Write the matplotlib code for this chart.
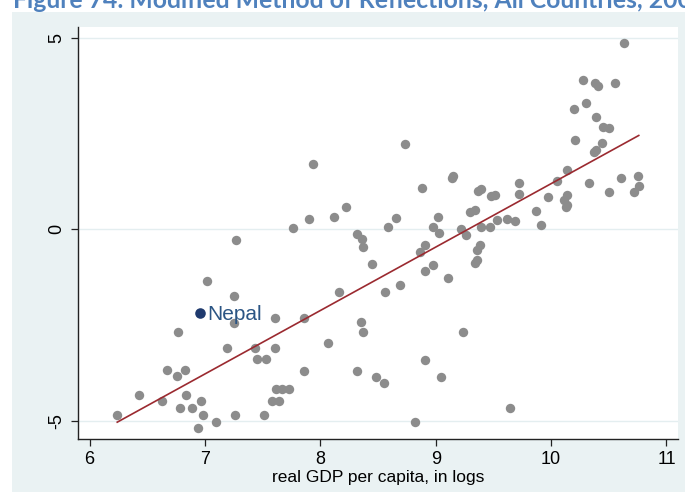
import numpy as np
import matplotlib
matplotlib.use('Agg')
import matplotlib.pyplot as plt
from matplotlib.patches import Rectangle

# log real GDP per capita vs. residual index
gdp = [6.24, 6.43, 6.63, 6.67, 6.76, 6.83, 6.77, 6.78, 6.84, 6.89, 6.97, 6.98, 6.94, 7.10,
       7.02, 7.19, 7.25, 7.25, 7.27, 7.26, 7.43, 7.45, 7.53, 7.51, 7.61, 7.61, 7.62, 7.67,
       7.73, 7.58, 7.64, 7.86, 7.86, 7.76, 7.90, 8.12, 8.22, 8.16, 8.07, 8.32, 8.36, 8.37,
       8.45, 8.35, 8.37, 8.32, 8.48, 8.55, 8.59, 8.66, 8.56, 8.69, 8.82, 8.91, 9.05, 8.86,
       8.91, 8.91, 8.98, 9.11, 8.98, 9.03, 9.02, 9.24, 9.22, 9.26, 9.30, 9.34, 9.39, 9.47,
       9.53, 9.62, 9.69, 9.87, 9.91, 9.38, 9.36, 9.36, 9.34, 9.64,
       10.63, 10.28, 10.38, 10.41, 10.55, 10.30, 10.20, 10.39, 10.45, 10.50, 10.21, 10.44,
       10.37, 10.39, 10.14, 10.05, 10.33, 10.61, 10.75, 10.76, 10.72, 10.50, 10.14, 10.11,
       10.14, 10.13, 9.97, 9.72, 9.72, 9.37, 9.39, 9.48, 9.51, 8.73, 7.94, 8.88, 9.15, 9.14]
index = [-4.85, -4.32, -4.49, -3.68, -3.84, -3.68, -2.68, -4.66, -4.32, -4.66, -4.49, -4.85, -5.20, -5.03,
         -1.35, -3.11, -2.44, -1.75, -0.27, -4.85, -3.11, -3.39, -3.39, -4.85, -2.31, -3.10, -4.17, -4.17,
         -4.17, -4.49, -4.49, -2.32, -3.70, 0.04, 0.27, 0.32, 0.57, -1.63, -2.97, -0.13, -0.26, -0.45,
         -0.91, -2.43, -2.68, -3.70, -3.85, -4.01, 0.07, 0.30, -1.64, -1.45, -5.03, -3.40, -3.85, -0.58,
         -0.41, -1.09, -0.93, -1.26, 0.07, -0.09, 0.33, -2.68, 0.00, -0.16, 0.46, 0.51, 0.07, 0.07,
         0.25, 0.28, 0.22, 0.49, 0.10, -0.42, -0.53, -0.80, -0.87, -4.67,
         4.87, 3.91, 3.83, 3.73, 3.82, 3.30, 3.15, 2.93, 2.66, 2.65, 2.34, 2.25,
         2.02, 2.08, 1.56, 1.26, 1.21, 1.34, 1.39, 1.13, 0.98, 0.98, 0.90, 0.77,
         0.64, 0.57, 0.85, 1.21, 0.92, 1.01, 1.05, 0.87, 0.90, 2.23, 1.70, 1.08, 1.39, 1.35]

nepal_x, nepal_y = 6.955, -2.19

x_ticks = [6, 7, 8, 9, 10, 11]
y_ticks = [-5, 0, 5]

bg = '#EAF2F3'
W, H = 685, 492

fig = plt.figure(figsize=(W / 100, H / 100), dpi=100)
fig.patch.set_facecolor('white')
# stata graph region, starts a little in from the top-left corner
fig.patches.append(Rectangle((12 / W, 0), 1 - 12 / W, 1 - 12 / H, transform=fig.transFigure,
                             facecolor=bg, edgecolor='none', zorder=-10))

ax = fig.add_axes([78 / W, 1 - 439 / H, 600 / W, 412 / H])
ax.set_zorder(2)
ax.set_facecolor('white')

ax.scatter(gdp, index, s=46, color='#8c8c8c', linewidths=0, zorder=3)
ax.scatter([nepal_x], [nepal_y], s=58, color='#1f3a6e', linewidths=0, zorder=4)
ax.annotate('Nepal', (nepal_x, nepal_y), xytext=(5.5, -1), textcoords='offset points',
            color='#2b5584', fontsize=15, family='Liberation Sans',
            va='center', ha='left', zorder=4)

# linear fit over all countries
all_x = np.array(gdp + [nepal_x])
all_y = np.array(index + [nepal_y])
b, a = np.polyfit(all_x, all_y, 1)
xs = np.array([all_x.min(), all_x.max()])
ax.plot(xs, a + b * xs, color='#9b2a30', linewidth=1.2, zorder=5)

ax.set_xlim(5.9, 11.1)
ax.set_ylim(-5.475, 5.282)
ax.set_xticks(x_ticks)
ax.set_yticks(y_ticks)
ax.set_yticklabels([str(t) for t in y_ticks], rotation=90, va='center')
for t in y_ticks:
    ax.axhline(t, color='#E4EEF0', linewidth=1.0, zorder=1)

for side in ['top', 'right']:
    ax.spines[side].set_visible(False)
for side in ['left', 'bottom']:
    ax.spines[side].set_color('#222222')
    ax.spines[side].set_linewidth(1.0)
ax.tick_params(direction='out', length=5, width=0.9, color='#222222',
               labelsize=13, labelcolor='black', pad=4)
for lab in ax.get_xticklabels() + ax.get_yticklabels():
    lab.set_family('Liberation Sans')
ax.set_xlabel('real GDP per capita, in logs', fontsize=12.5, family='Liberation Sans', labelpad=1)

# title of the document figure, cut off by the top edge
title = 'Figure 74. Modified Method of Reflections, All Countries, 2008'
prefix = 'Figure 74. Modified Method of Reflections, All Countries, '
tmp = fig.text(0, 0, prefix, fontsize=12, family='Lato', weight='bold')
fig.canvas.draw()
wpx = tmp.get_window_extent().width
tmp.remove()
size = 12 * 634 / wpx
fig.text(13 / W, 1 - 8 / H, title, fontsize=size, family='Lato', weight='bold',
         color='#4F81BD', va='baseline', ha='left')

fig.savefig('out.png', dpi=100)
